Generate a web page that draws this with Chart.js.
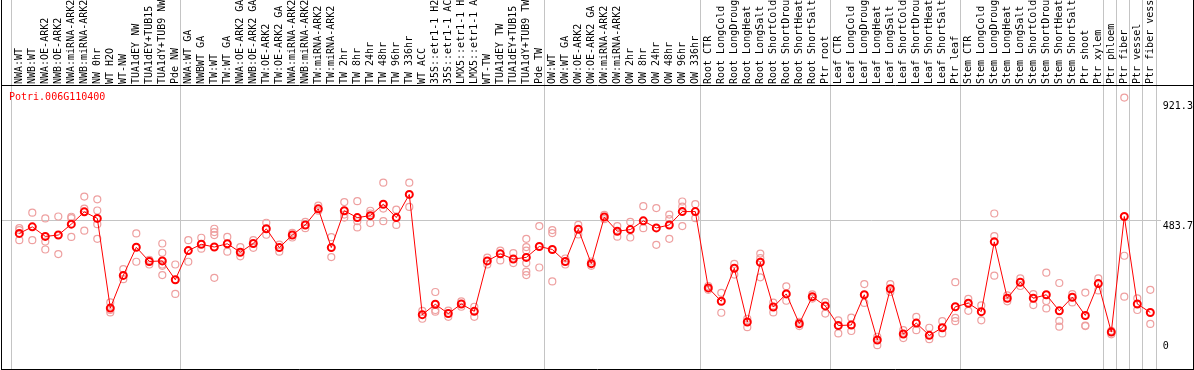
<!DOCTYPE html>
<html>
<head>
<meta charset="utf-8">
<script src="https://cdn.jsdelivr.net/npm/chart.js@4"></script>
<style>
html, body { margin: 0; padding: 0; background: #fff; }
#wrap { width: 1194px; height: 370px; }
</style>
</head>
<body>
<div id="wrap"><canvas id="exprChart" width="1194" height="370"></canvas></div>
<script>
const geneName = 'Potri.006G110400';

const categories = [
    'NWA:WT', 'NWB:WT', 'NWA:OE-ARK2', 'NWB:OE-ARK2', 'NWA:miRNA-ARK2', 'NWB:miRNA-ARK2',
    'NW 0hr', 'WT H2O', 'WT-NW', 'TUA1dEY NW', 'TUA1dEY+TUB15 NW', 'TUA1dY+TUB9 NW', 'Pde NW',
    'NWA:WT GA', 'NWBWT GA', 'TW:WT', 'TW:WT GA', 'NWA:OE-ARK2 GA', 'NWB:OE-ARK2 GA',
    'TW:OE-ARK2', 'TW:OE-ARK2 GA', 'NWA:miRNA-ARK2 GA', 'NWB:miRNA-ARK2 GA', 'TW:miRNA-ARK2',
    'TW:miRNA-ARK2 GA', 'TW 2hr', 'TW 8hr', 'TW 24hr', 'TW 48hr', 'TW 96hr', 'TW 336hr',
    'WT ACC', '35S::etr1-1 H2O', '35S::etr1-1 ACC', 'LMX5::etr1-1 H2O', 'LMX5::etr1-1 ACC',
    'WT-TW', 'TUA1dEY TW', 'TUA1dEY+TUB15 TW', 'TUA1dY+TUB9 TW', 'Pde TW',
    'OW:WT', 'OW:WT GA', 'OW:OE-ARK2', 'OW:OE-ARK2 GA', 'OW:miRNA-ARK2', 'OW:miRNA-ARK2 GA',
    'OW 2hr', 'OW 8hr', 'OW 24hr', 'OW 48hr', 'OW 96hr', 'OW 336hr',
    'Root CTR', 'Root LongCold', 'Root LongDrought', 'Root LongHeat', 'Root LongSalt',
    'Root ShortCold', 'Root ShortDrought', 'Root ShortHeat', 'Root ShortSalt', 'Ptr root',
    'Leaf CTR', 'Leaf LongCold', 'Leaf LongDrought', 'Leaf LongHeat', 'Leaf LongSalt',
    'Leaf ShortCold', 'Leaf ShortDrought', 'Leaf ShortHeat', 'Leaf ShortSalt', 'Ptr leaf',
    'Stem CTR', 'Stem LongCold', 'Stem LongDrought', 'Stem LongHeat', 'Stem LongSalt',
    'Stem ShortCold', 'Stem ShortDrought', 'Stem ShortHeat', 'Stem ShortSalt', 'Ptr shoot',
    'Ptr xylem', 'Ptr phloem', 'Ptr fiber', 'Ptr vessel', 'Ptr fiber vessel'
];

// first category of every sample group (grey separators)
const groupStarts = [0, 13, 41, 53, 63, 73, 84, 85, 86, 87];

const meanValues = [
    435, 459, 424, 429, 469, 514, 490, 161, 281, 384, 332, 334, 265,
    372, 395, 385, 397, 366, 398, 452, 383, 429, 466, 525, 383, 518, 493, 500, 542, 493, 578,
    137, 175, 141, 176, 149, 334, 360, 341, 347, 387,
    376, 332, 450, 324, 495, 443, 449, 481, 455, 466, 515, 515,
    235, 186, 307, 110, 329, 165, 213, 104, 203, 169,
    97, 99, 210, 44, 232, 66, 106, 61, 89, 166,
    179, 148, 404, 197, 256, 197, 210, 151, 201, 134, 251,
    73, 497, 176, 145
];

const replicates = [
    [454, 447, 410], [511, 410], [490, 405, 376], [497, 359], [496, 491, 422], [570, 526, 445],
    [560, 519, 469, 415], [182, 154, 145], [304, 267], [435, 331], [338, 321],
    [398, 364, 321, 316, 282], [321, 213],
    [410, 331], [419, 379], [452, 440, 429, 272], [422, 368], [385, 351], [410, 382],
    [474, 430], [394, 368], [437, 420], [477, 454], [537, 518], [421, 348], [550, 504, 493],
    [553, 480, 457], [518, 508, 473], [621, 526, 480], [522, 466], [621, 532],
    [151, 122], [220, 154, 148], [152, 129], [166, 186], [166, 129], [346, 321], [372, 336],
    [363, 326], [415, 385, 372, 326, 295, 282], [462, 310],
    [447, 436, 259], [343, 321], [466, 431], [316, 332], [503, 487], [462, 423], [477, 420],
    [535, 454], [528, 393], [504, 487, 415], [552, 533, 462], [542, 491],
    [228, 242], [217, 144], [323, 284], [122, 91], [361, 344, 274], [181, 145], [241, 188],
    [111, 95], [211, 196], [183, 141],
    [116, 68], [126, 77], [249, 180], [56, 25], [249, 220], [80, 51], [129, 80], [89, 47],
    [113, 68], [256, 125, 113],
    [195, 151], [171, 116], [508, 425, 280], [186, 208], [270, 242], [212, 172],
    [291, 187, 160], [253, 114, 93], [212, 182], [218, 97, 95], [270, 226],
    [78, 65], [933, 353, 203], [197, 154], [228, 103]
];

const yTicks = [0, 483.7, 921.3];
const yMax = 975.6;

const monoFont = { family: '"DejaVu Sans Mono", "Liberation Mono", monospace', size: 10, lineHeight: 1.2 };

// replicate circles keyed by category name
const repPoints = [];
replicates.forEach((reps, i) => {
    reps.forEach(v => repPoints.push({ x: categories[i], y: v }));
});

const framePlugin = {
    id: 'frame',
    beforeDatasetsDraw(chart) {
        const { ctx, scales: { x, y } } = chart;
        ctx.save();
        ctx.lineWidth = 1;
        ctx.strokeStyle = '#c4c4c4';
        ctx.beginPath();
        groupStarts.forEach(i => {
            const px = Math.round(x.getPixelForValue(i) - 8.3) + 0.5;
            ctx.moveTo(px, 0);
            ctx.lineTo(px, chart.height);
        });
        const endX = Math.round(x.getPixelForValue(categories.length - 1) + 5.5) + 0.5;
        ctx.moveTo(endX, 0);
        ctx.lineTo(endX, chart.height);
        const midY = Math.round(y.getPixelForValue(yTicks[1])) + 0.5;
        ctx.moveTo(2, midY);
        ctx.lineTo(1161, midY);
        ctx.stroke();

        ctx.strokeStyle = '#000';
        ctx.beginPath();
        ctx.moveTo(1.5, 0); ctx.lineTo(1.5, chart.height);
        ctx.moveTo(chart.width - 0.5, 0); ctx.lineTo(chart.width - 0.5, chart.height);
        ctx.moveTo(1, 85.5); ctx.lineTo(chart.width, 85.5);
        ctx.moveTo(1, chart.height - 0.5); ctx.lineTo(chart.width, chart.height - 0.5);
        ctx.stroke();
        ctx.restore();
    },
    afterDraw(chart) {
        const ctx = chart.ctx;
        ctx.save();
        ctx.fillStyle = '#ff0000';
        ctx.font = '10px ' + monoFont.family;
        ctx.textBaseline = 'top';
        ctx.fillText(geneName, 9, 92);
        ctx.restore();
    }
};

new Chart(document.getElementById('exprChart'), {
    type: 'line',
    data: {
        labels: categories,
        datasets: [{
            label: 'mean',
            data: meanValues,
            borderColor: '#ff0000',
            borderWidth: 1,
            tension: 0,
            pointRadius: 3.5,
            pointBorderWidth: 2,
            pointBorderColor: '#ff0000',
            pointBackgroundColor: 'rgba(0,0,0,0)'
        }, {
            label: 'replicates',
            data: repPoints,
            showLine: false,
            pointRadius: 3.5,
            pointBorderWidth: 1.2,
            pointBorderColor: '#eea0a0',
            pointBackgroundColor: 'rgba(0,0,0,0)'
        }]
    },
    options: {
        responsive: false,
        animation: false,
        layout: { padding: { left: 12.8, right: 0, top: 0, bottom: 2 } },
        plugins: {
            legend: { display: false },
            tooltip: { enabled: false }
        },
        scales: {
            x: {
                type: 'category',
                position: 'top',
                offset: true,
                grid: { display: false, drawTicks: false },
                border: { display: false },
                afterFit: s => { s.height = 86; },
                ticks: {
                    autoSkip: false,
                    minRotation: 90,
                    maxRotation: 90,
                    padding: 2,
                    labelOffset: 12,
                    color: '#000',
                    font: monoFont
                }
            },
            y: {
                position: 'right',
                min: 0,
                max: yMax,
                grid: { display: false, drawTicks: false },
                border: { display: false },
                afterBuildTicks: s => { s.ticks = yTicks.map(v => ({ value: v })); },
                afterFit: s => { s.width = 37.2; },
                ticks: {
                    padding: 6,
                    color: '#000',
                    font: monoFont,
                    callback: v => v === 0 ? ['0', ''] : ['', String(v)]
                }
            }
        }
    },
    plugins: [framePlugin]
});
</script>
</body>
</html>
